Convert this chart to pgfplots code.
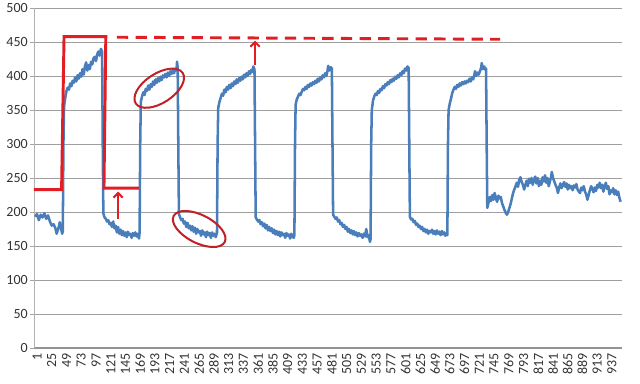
\documentclass[border=0pt]{standalone}
\usepackage{pgfplots}
\pgfplotsset{compat=1.18}
\usepackage{fontspec}
\setmainfont{Carlito}
\usetikzlibrary{arrows.meta}
\definecolor{blueline}{RGB}{74,126,187}
\definecolor{redline}{RGB}{225,30,35}
\definecolor{redell}{RGB}{192,32,38}
\begin{document}
\begin{tikzpicture}
\begin{axis}[
  scale only axis, width=441pt, height=255pt,
  xmin=-3.9, xmax=953.3, ymin=0, ymax=500,
  axis x line=bottom, axis y line=left,
  axis line style={-},
  x axis line style={line width=2.2pt, color=gray!85},
  y axis line style={line width=0.6pt, color=gray!60},
  xtick={1,25,...,937}, ytick={0,50,...,500},
  ymajorgrids, grid style={gray!75, line width=0.6pt},
  x tick style={draw=none},
  y tick style={gray!70, line width=0.6pt},
  major tick length=3pt, tick align=outside,
  /pgf/number format/assume math mode=true,
  tick label style={font=\fontsize{10.5}{12}\selectfont, color=black!80},
  xticklabel style={rotate=90, anchor=east, inner sep=1pt},
  yticklabel style={inner sep=1.5pt},
  clip=false,
]
\addplot[blueline, line width=1.9pt, line join=round] coordinates {
(-2,193) (1,197) (4,188) (7,196) (10,192) (13,198) (16,190) (19,195) (22,186) (25,180) (28,182) (31,176) (33,168) (35,174) (37,180) (38,185) (40,176) (42,168) (43,172)
(44,300) (45,355) (47,368) (49,378) (51,383) (53,380) (55,389) (57,385) (59,393) (61,390) (63,398) (65,392) (67,401) (69,396) (71,404) (73,399) (75,410) (77,402) (79,414) (81,420) (83,408) (85,416) (87,410) (89,421) (91,417) (93,426) (95,428) (97,422) (99,432) (101,436) (103,430) (105,440) (106,438) (107,436)
(108,300) (109,198) (111,192) (113,190) (115,186) (117,188) (119,182) (121,184) (123,178) (125,186) (127,176) (129,180) (131,170) (133,178) (135,168) (137,174) (139,166) (141,172) (143,165) (145,170) (147,163) (149,171) (151,166) (153,168) (155,162) (157,169) (159,165) (161,170) (163,164) (165,168) (167,161) (168,170)
(169,300) (170,362) (172,370) (174,376) (176,372) (178,381) (180,378) (182,386) (184,380) (186,388) (188,384) (190,392) (192,387) (194,395) (196,390) (198,397) (200,392) (202,399) (204,394) (206,401) (208,398) (210,403) (212,398) (214,405) (216,400) (218,407) (220,403) (222,409) (224,404) (226,410) (228,408) (229,421) (230,412)
(231,300) (232,197) (234,192) (236,188) (238,190) (240,183) (242,186) (244,178) (246,184) (248,176) (250,180) (252,173) (254,179) (256,171) (258,177) (260,168) (262,175) (264,170) (266,172) (268,165) (270,173) (272,167) (274,170) (276,163) (278,171) (280,166) (282,169) (284,162) (286,170) (288,165) (290,168) (292,163) (294,170)
(295,300) (296,353) (298,362) (300,368) (302,374) (304,371) (306,380) (308,376) (310,384) (312,380) (314,387) (316,382) (318,389) (320,385) (322,392) (324,388) (326,395) (328,390) (330,397) (332,393) (334,399) (336,395) (338,402) (340,398) (342,404) (344,400) (346,407) (348,403) (350,409) (352,406) (353,414) (355,410)
(356,300) (357,192) (359,189) (361,186) (363,188) (365,182) (367,185) (369,179) (371,183) (373,176) (375,181) (377,173) (379,178) (381,172) (383,176) (385,169) (387,174) (389,167) (391,172) (393,166) (395,171) (397,164) (399,170) (401,166) (403,168) (405,162) (407,169) (409,165) (411,167) (413,161) (415,168) (417,164) (419,162) (420,166)
(421,300) (422,358) (424,366) (426,370) (428,374) (430,372) (432,377) (434,381) (436,379) (438,384) (440,381) (442,387) (444,384) (446,389) (448,386) (450,391) (452,388) (454,393) (456,390) (458,396) (460,392) (462,398) (464,395) (466,401) (468,398) (470,404) (472,400) (474,408) (475,415) (477,408) (479,413) (481,411)
(482,300) (483,196) (485,193) (487,190) (489,192) (491,186) (493,188) (495,182) (497,184) (499,178) (501,181) (503,175) (505,178) (507,171) (509,175) (511,169) (513,173) (515,167) (517,172) (519,166) (521,170) (523,164) (525,169) (527,165) (529,167) (531,162) (533,168) (535,164) (537,175) (539,163) (541,166) (543,156) (544,160)
(545,300) (546,350) (548,364) (550,370) (552,374) (554,372) (556,378) (558,375) (560,381) (562,379) (564,385) (566,382) (568,388) (570,386) (572,391) (574,388) (576,394) (578,391) (580,396) (582,393) (584,399) (586,396) (588,401) (590,398) (592,404) (594,401) (596,407) (598,404) (600,411) (602,408) (604,414) (606,412)
(607,300) (608,193) (610,189) (612,190) (614,185) (616,187) (618,181) (620,183) (622,178) (624,180) (626,175) (628,178) (630,172) (632,175) (634,170) (636,174) (638,168) (640,172) (642,170) (644,174) (646,168) (648,172) (650,167) (652,173) (654,168) (656,171) (658,166) (660,172) (662,167) (664,170) (666,165) (668,169) (669,166)
(670,300) (671,350) (673,360) (675,367) (677,375) (679,380) (681,384) (683,381) (685,387) (687,384) (689,389) (691,386) (693,391) (695,388) (697,392) (699,389) (701,393) (703,391) (705,396) (707,392) (709,398) (711,395) (713,402) (714,407) (716,400) (718,405) (720,402) (722,407) (724,412) (725,419) (727,410) (729,414) (731,409) (732,411)
(733,300) (734,206) (736,214) (738,222) (740,216) (742,225) (744,218) (746,228) (748,220) (750,215) (752,224) (754,220) (756,222) (758,213) (760,208) (762,203) (764,199) (766,196) (768,200) (770,206) (772,212) (774,220) (776,228) (778,233) (780,238) (782,243) (784,237) (786,248) (788,251) (790,244) (792,240) (794,233) (796,240) (798,246) (800,238) (802,249) (804,243) (806,250) (808,240) (810,248) (812,252) (814,242) (816,250) (818,238) (820,246) (822,240) (824,251) (826,245) (828,254) (830,243) (832,250) (834,238) (836,245) (838,252) (839,259) (841,250) (843,245) (845,240) (847,236) (849,228) (851,236) (853,242) (855,235) (857,240) (859,244) (861,237) (863,242) (865,233) (867,240) (869,235) (871,238) (873,232) (875,239) (877,236) (879,241) (881,233) (883,230) (885,228) (887,236) (889,232) (891,238) (893,230) (895,226) (897,218) (899,225) (901,232) (903,238) (905,234) (907,229) (909,236) (911,231) (913,240) (915,236) (917,243) (919,235) (921,240) (923,230) (925,238) (927,243) (929,234) (931,238) (933,226) (935,232) (937,229) (939,235) (941,226) (943,232) (945,225) (947,230) (949,221) (951,215)
};
% red step annotation
\addplot[redline, line width=2.2pt, line join=miter] coordinates {
(-3.9,233) (41,233) (45,458) (113,458) (110,235) (167,235)
};
% dashed target line
\addplot[redline, line width=2.2pt, dash pattern=on 8.5pt off 5.5pt] coordinates {
(131,457) (755,454)
};
% arrows
\draw[redline, line width=1.5pt, -{Straight Barb[length=3.5pt,width=7pt]}] (axis cs:133,190) -- (axis cs:133,230);
\draw[redline, line width=1.5pt, -{Straight Barb[length=3.5pt,width=7pt]}] (axis cs:356,416) -- (axis cs:356,452);
% ellipses
\draw[redell, line width=1.5pt, rotate around={33:(axis cs:200,382)}] (axis cs:200,382) ellipse [x radius=21pt, y radius=11pt];
\draw[redell, line width=1.5pt, rotate around={-27:(axis cs:265,175)}] (axis cs:265,175) ellipse [x radius=21.5pt, y radius=10.5pt];
\coordinate (bl) at (rel axis cs:0,0);
\coordinate (tr) at (rel axis cs:1,1);
\end{axis}
\pgfresetboundingbox
\path ([shift={(-25.5pt,-27pt)}]bl) rectangle ([shift={(13.5pt,6pt)}]tr);
\end{tikzpicture}
\end{document}
